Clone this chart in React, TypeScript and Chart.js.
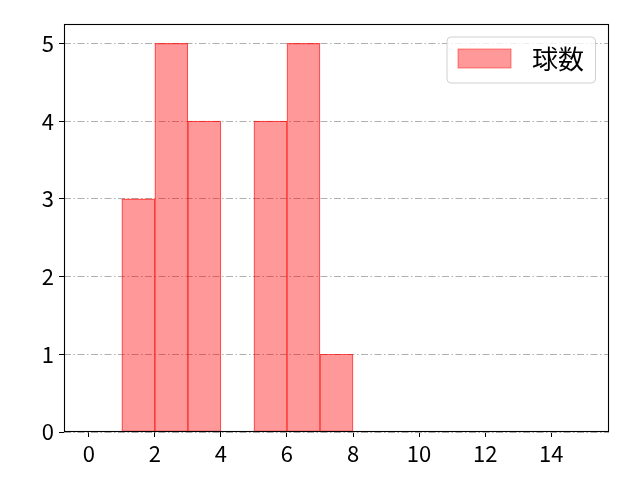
import React, { useEffect, useRef } from "react";
import { Chart, registerables } from "chart.js";

Chart.register(...registerables);

// ---- data ----
const binEdges = [0, 1, 2, 3, 4, 5, 6, 7, 8, 9, 10, 11, 12, 13, 14, 15];
const counts = [0, 3, 5, 4, 0, 4, 5, 1, 0, 0, 0, 0, 0, 0, 0];
const seriesLabel = "球数";
const xTickValues = [0, 2, 4, 6, 8, 10, 12, 14];
const yTickValues = [0, 1, 2, 3, 4, 5];
const xRange = [-0.75, 15.75];
const yRange = [0, 5.25];

const FONT = "'Noto Sans CJK JP', 'DejaVu Sans', sans-serif";
const FILL = "rgba(255,0,0,0.4)";
const EDGE = "rgba(255,0,0,0.62)";

const framePlugin = {
  id: "frame",
  afterDatasetsDraw(chart: any) {
    const { ctx, chartArea } = chart;
    const { left, top, right, bottom } = chartArea;
    ctx.save();
    ctx.strokeStyle = "#000";
    ctx.lineWidth = 1.1;
    ctx.strokeRect(left + 0.5, top + 0.5, right - left - 1, bottom - top - 1);
    ctx.restore();
  },
};

const legendPlugin = {
  id: "boxLegend",
  afterDraw(chart: any) {
    const { ctx, chartArea } = chart;
    const label = chart.data.datasets[0].label;
    const w = 148.5;
    const h = 46;
    const x0 = chartArea.right - 13.5 - w;
    const y0 = chartArea.top + 13;
    ctx.save();
    const r = 4;
    ctx.beginPath();
    ctx.moveTo(x0 + r, y0);
    ctx.lineTo(x0 + w - r, y0);
    ctx.quadraticCurveTo(x0 + w, y0, x0 + w, y0 + r);
    ctx.lineTo(x0 + w, y0 + h - r);
    ctx.quadraticCurveTo(x0 + w, y0 + h, x0 + w - r, y0 + h);
    ctx.lineTo(x0 + r, y0 + h);
    ctx.quadraticCurveTo(x0, y0 + h, x0, y0 + h - r);
    ctx.lineTo(x0, y0 + r);
    ctx.quadraticCurveTo(x0, y0, x0 + r, y0);
    ctx.closePath();
    ctx.fillStyle = "rgba(255,255,255,0.8)";
    ctx.fill();
    ctx.strokeStyle = "#d0d0d0";
    ctx.lineWidth = 1;
    ctx.stroke();

    ctx.fillStyle = FILL;
    ctx.fillRect(x0 + 11, y0 + 12, 53, 19);
    ctx.strokeStyle = "rgba(255,0,0,0.45)";
    ctx.lineWidth = 1;
    ctx.strokeRect(x0 + 11, y0 + 12, 53, 19);

    ctx.fillStyle = "#000";
    ctx.font = `26px ${FONT}`;
    ctx.textAlign = "left";
    ctx.textBaseline = "middle";
    ctx.fillText(label, x0 + 85, y0 + 22);
    ctx.restore();
  },
};

function HistChart() {
  const ref = useRef<HTMLCanvasElement | null>(null);
  useEffect(() => {
    if (!ref.current) return;
    const points = counts.map((c, i) => ({
      x: (binEdges[i] + binEdges[i + 1]) / 2,
      y: c,
    }));
    const chart = new Chart(ref.current, {
      type: "bar",
      data: {
        datasets: [
          {
            label: seriesLabel,
            data: points as any,
            backgroundColor: FILL,
            borderColor: EDGE,
            borderWidth: 0.5,
            borderSkipped: false,
            barPercentage: 1,
            categoryPercentage: 1,
          },
        ],
      },
      options: {
        animation: false,
        responsive: false,
        devicePixelRatio: 1,
        layout: { padding: { left: 0, top: 24, right: 31, bottom: 0 } },
        plugins: {
          legend: { display: false },
          tooltip: { enabled: false },
        },
        scales: {
          x: {
            type: "linear",
            min: xRange[0],
            max: xRange[1],
            offset: false,
            afterBuildTicks: (s: any) => {
              s.ticks = xTickValues.map((v) => ({ value: v }));
            },
            afterFit: (s: any) => {
              s.height = 48;
            },
            grid: {
              offset: false,
              drawOnChartArea: false,
              drawTicks: true,
              tickLength: 5,
              tickColor: "#000",
              tickWidth: 1,
            },
            border: { display: false },
            ticks: {
              padding: 3,
              color: "#000",
              maxRotation: 0,
              font: { family: FONT, size: 22 },
            },
          },
          y: {
            type: "linear",
            min: yRange[0],
            max: yRange[1],
            afterBuildTicks: (s: any) => {
              s.ticks = yTickValues.map((v) => ({ value: v }));
            },
            afterFit: (s: any) => {
              s.width = 64;
            },
            grid: {
              drawOnChartArea: true,
              drawTicks: true,
              tickLength: 5,
              color: "#b0b0b0",
              lineWidth: 1,
              tickColor: "#000",
              tickWidth: 1,
              tickBorderDash: [],
            },
            border: { display: false, dash: [7, 2.5, 1.5, 2.5] },
            ticks: {
              padding: 5,
              color: "#000",
              font: { family: FONT, size: 22 },
            },
          },
        },
      } as any,
      plugins: [framePlugin, legendPlugin],
    });
    return () => chart.destroy();
  }, []);
  return <canvas ref={ref} width={640} height={480} />;
}

export default function App() {
  return (
    <div style={{ position: "absolute", left: 0, top: 0, width: 640, height: 480, background: "#fff" }}>
      <HistChart />
    </div>
  );
}
